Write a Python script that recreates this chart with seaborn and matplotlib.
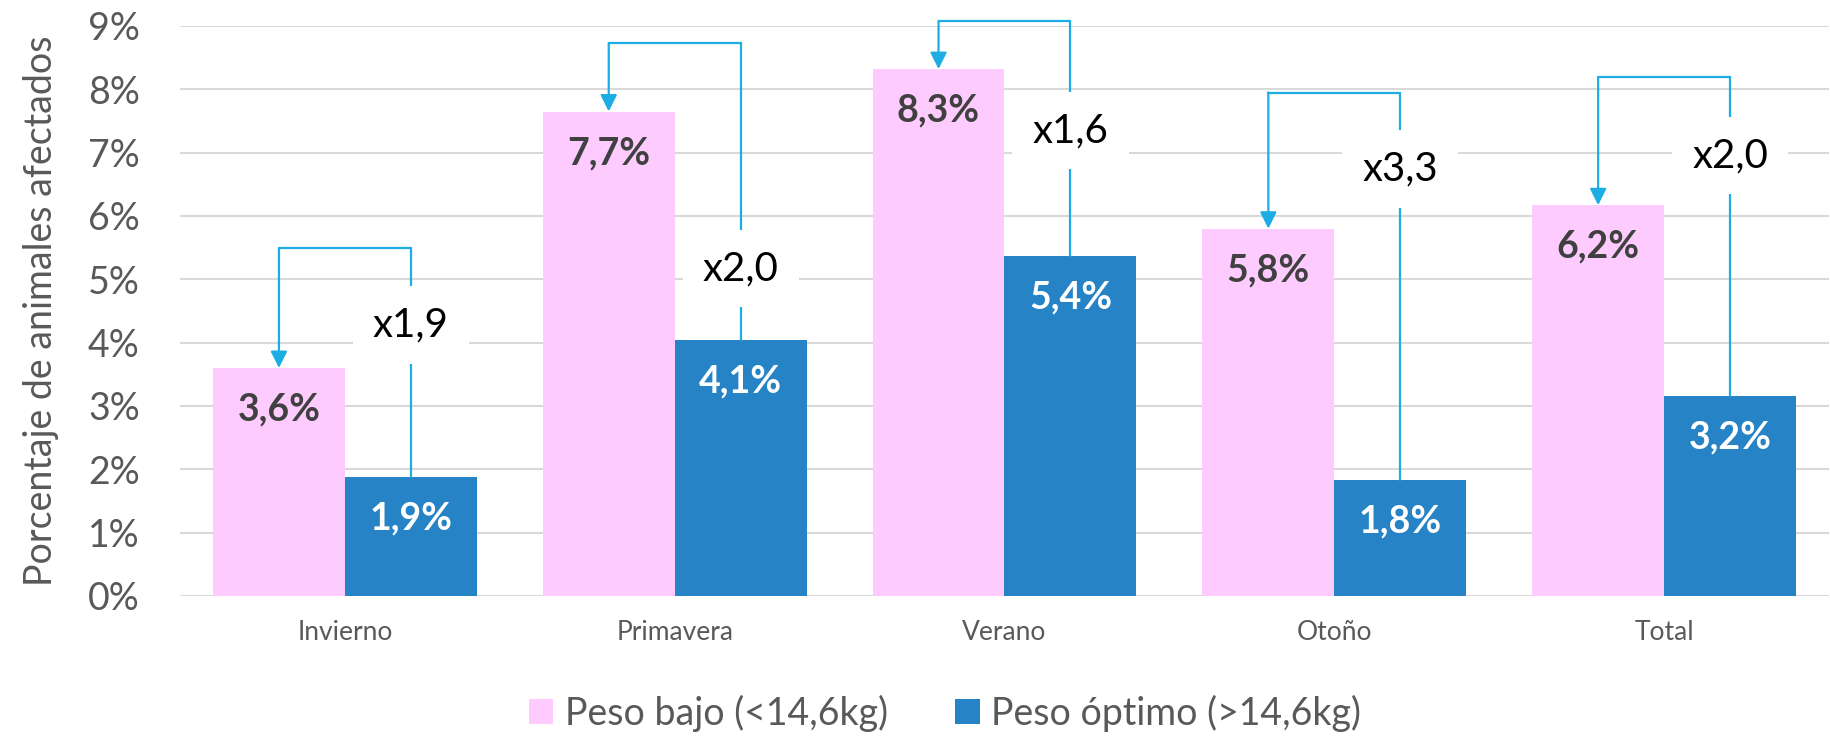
import numpy as np
import pandas as pd
import matplotlib
matplotlib.use('Agg')
import matplotlib.pyplot as plt
import seaborn as sns
from matplotlib.patches import Patch
from matplotlib.ticker import FuncFormatter

# datos (porcentaje de animales afectados)
estaciones = ['Invierno', 'Primavera', 'Verano', 'Otoño', 'Total']
series = ['Peso bajo (<14,6kg)', 'Peso óptimo (>14,6kg)']
peso_bajo = [3.60, 7.65, 8.32, 5.80, 6.17]
peso_optimo = [1.88, 4.05, 5.37, 1.83, 3.16]
etiquetas_bajo = ['3,6%', '7,7%', '8,3%', '5,8%', '6,2%']
etiquetas_optimo = ['1,9%', '4,1%', '5,4%', '1,8%', '3,2%']
ratios = ['x1,9', 'x2,0', 'x1,6', 'x3,3', 'x2,0']

# altura de los corchetes y de los textos de ratio (en %)
altura_corchete = [5.49, 8.73, 9.08, 7.95, 8.19]
altura_ratio = [4.28, 5.17, 7.35, 6.74, 6.95]

rosa = '#FDCBFD'
azul = '#2683C6'
celeste = '#1CADE4'
gris = '#595959'

sns.set_style('white')
plt.rcParams['font.family'] = ['Lato', 'DejaVu Sans']

W, H = 1831, 736
fig = plt.figure(figsize=(W / 100, H / 100), dpi=100)
ax = fig.add_axes([180 / W, 140 / H, 1649 / W, 570 / H])

df = pd.DataFrame({
    'estacion': estaciones * 2,
    'valor': peso_bajo + peso_optimo,
    'serie': [series[0]] * len(estaciones) + [series[1]] * len(estaciones),
})
sns.barplot(data=df, x='estacion', y='valor', hue='serie', hue_order=series,
            palette=[rosa, azul], saturation=1, width=0.8, legend=False,
            errorbar=None, linewidth=0, edgecolor='none', ax=ax, zorder=2)

ax.set_ylim(0, 9)
ax.set_xlim(-0.5, len(estaciones) - 0.5)
ax.set_yticks(range(0, 10))
ax.yaxis.set_major_formatter(FuncFormatter(lambda v, p: f'{v:.0f}%'))
ax.set_axisbelow(True)
ax.yaxis.grid(True, color='#D9D9D9', lw=1.5)
sns.despine(ax=ax, left=True, bottom=True)
ax.tick_params(axis='y', length=0, pad=29, labelsize=27, labelcolor=gris)
ax.tick_params(axis='x', length=0, pad=17, labelsize=19, labelcolor=gris)
ax.set_xlabel('')
ax.set_ylabel('Porcentaje de animales afectados', fontsize=27, color=gris)
ax.yaxis.set_label_coords(-0.0843, 0.5)
ax.yaxis.label.set_va('center')

bars_bajo, bars_opt = ax.containers[0], ax.containers[1]

for i in range(len(estaciones)):
    pb = bars_bajo[i]
    po = bars_opt[i]
    xp = pb.get_x() + pb.get_width() / 2
    hp = pb.get_height()
    xo = po.get_x() + po.get_width() / 2
    ho = po.get_height()

    # etiquetas de valor dentro de las barras
    ax.annotate(etiquetas_bajo[i], (xp, hp), xytext=(0, -30), textcoords='offset points',
                ha='center', va='center', fontsize=27, fontweight='bold', color='#404040', zorder=5)
    ax.annotate(etiquetas_optimo[i], (xo, ho), xytext=(0, -30), textcoords='offset points',
                ha='center', va='center', fontsize=27, fontweight='bold', color='white', zorder=5)

    # corchete con flecha desde la barra azul a la rosa
    top = altura_corchete[i]
    ax.plot([xo, xo, xp], [ho, top, top], color=celeste, lw=1.6, clip_on=False, zorder=3,
            solid_joinstyle='miter')
    ax.annotate('', xy=(xp, hp), xytext=(xp, top), annotation_clip=False, zorder=3,
                arrowprops=dict(arrowstyle='-|>,head_length=0.5,head_width=0.25',
                                color=celeste, lw=1.6, mutation_scale=20,
                                shrinkA=0, shrinkB=0))

    ax.text(xo, altura_ratio[i], ratios[i], ha='center', va='center', fontsize=29,
            color='black', zorder=4,
            bbox=dict(boxstyle='square,pad=0.5', fc='white', ec='none'))

handles = [Patch(facecolor=rosa, edgecolor='none'), Patch(facecolor=azul, edgecolor='none')]
fig.legend(handles=handles, labels=series, loc='center', bbox_to_anchor=(945 / W, 1 - 713 / H),
           ncol=2, frameon=False, fontsize=27, labelcolor=gris, handlelength=0.65,
           handleheight=0.65, handletextpad=0.3, columnspacing=1.8)

fig.savefig('out.png', dpi=100)
